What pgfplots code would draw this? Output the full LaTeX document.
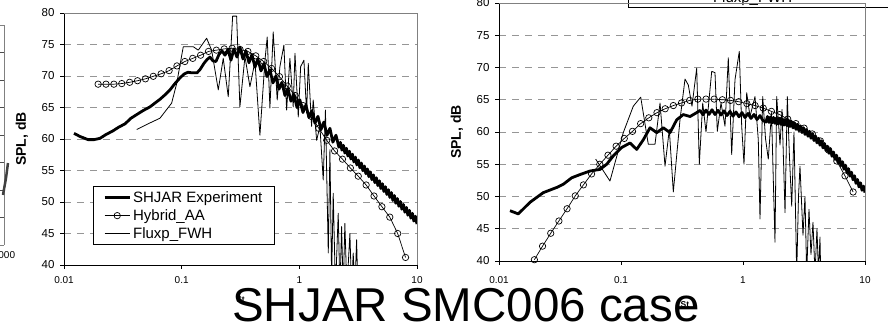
\documentclass[border=0pt]{standalone}
\usepackage{fontspec}
\setmainfont{Liberation Sans}
\usepackage{pgfplots}
\pgfplotsset{compat=1.18}
\definecolor{gridgray}{RGB}{150,150,150}
\definecolor{framegray}{RGB}{128,128,128}
\begin{document}
\begin{tikzpicture}

% partial panel at the far left
\begin{axis}[scale only axis, at={(4pt,81pt)}, anchor=south east, width=300pt, height=220pt,
  xmode=log, xmin=1, xmax=1000, ymin=40, ymax=80,
  axis x line*=bottom, axis y line*=right,
  axis line style={-, framegray, line width=0.8pt},
  xtick={1000}, xticklabels={1000}, xminorticks=false,
  ytick={40,45,...,80}, yticklabels={},
  tick align=inside, major tick length=4pt, tick style={black!70, line width=0.7pt},
  xticklabel style={font=\fontsize{10}{11}\selectfont, yshift=-3pt},
  clip=false]
\addplot[line width=2.5pt, black!75, no markers] coordinates {(977,49.1) (1048,52.2) (1096,54.9)};
\end{axis}
\draw[framegray, line width=0.8pt] (-296pt,301pt) -- (4pt,301pt);

% left panel
\begin{axis}[scale only axis, at={(64pt,61pt)}, anchor=south west, width=353pt, height=252pt,
  xmode=log, xmin=0.01, xmax=10, ymin=40, ymax=80,
  axis x line*=bottom, axis y line*=left,
  axis line style={-, black, line width=0.8pt},
  xtick={0.01,0.1,1,10}, xticklabels={0.01,0.1,1,10},
  ytick={40,45,...,80}, yticklabels={40,45,50,55,60,65,70,75,80},
  xminorticks=false, yminorticks=false,
  tick align=outside, major tick length=4pt,
  tick style={black, line width=0.7pt},
  xticklabel style={font=\fontsize{10}{11}\selectfont, yshift=-4pt},
  yticklabel style={font=\fontsize{11.5}{13}\selectfont, xshift=-2pt},
  ymajorgrids,
  grid style={gridgray, line width=0.8pt, dash pattern=on 7pt off 6pt},
  xlabel={St}, ylabel={SPL, dB},
  every axis y label/.style={at={(axis description cs:-0.119,0.5)}, rotate=90, anchor=center, font=\fontsize{14}{16}\selectfont\bfseries},
  every axis x label/.style={at={(axis description cs:0.5,-0.139)}, anchor=center, font=\fontsize{8.5}{10}\selectfont\bfseries},
  legend cell align=left,
  legend style={at={(axis description cs:0.082,0.079)}, anchor=south west, draw=black, line width=0.8pt,
    font=\fontsize{15}{17}\selectfont, inner xsep=10pt, inner ysep=3pt, row sep=1.5pt, nodes={inner sep=2pt}},
  legend image code/.code={\draw[mark repeat=2,mark phase=2,#1] plot coordinates {(0pt,0pt) (12.5pt,0pt) (25pt,0pt)};},
]
\addplot[black, line width=2.8pt, line join=round, no markers] coordinates {
(0.01216,60.9) (0.01368,60.4) (0.0160,59.9) (0.0180,59.9) (0.0202,60.1) (0.0227,60.7)
(0.0261,61.3) (0.0293,61.9) (0.0330,62.4) (0.0371,63.3) (0.0417,63.9) (0.0469,64.5)
(0.0538,65.1) (0.0593,65.7) (0.0654,66.3) (0.0721,67.0) (0.0796,67.8) (0.0877,68.8)
(0.0968,69.7) (0.1047,70.3) (0.1132,70.6) (0.1224,70.5) (0.1349,70.5) (0.1430,71.0)
(0.1546,72.0) (0.1641,72.6) (0.1740,73.0) (0.1845,72.4) (0.1955,72.3) (0.2074,73.4)
(0.2199,74.0) (0.2333,73.3) (0.2472,74.2) (0.2624,72.5) (0.2780,74.3) (0.2951,73.0)
(0.3126,74.6) (0.3319,72.7) (0.3516,74.0) (0.3733,72.1) (0.3954,73.4) (0.4198,71.4)
(0.4446,72.7) (0.4721,70.8) (0.5000,72.0) (0.5309,69.9) (0.5623,71.0) (0.5970,68.9)
(0.6324,70.0) (0.6714,67.9) (0.7112,69.0) (0.7551,66.9) (0.7998,68.0) (0.8492,66.0)
(0.8995,67.1) (0.9550,65.0) (1.0116,66.2) (1.074,64.2) (1.138,65.4) (1.208,63.4)
(1.279,64.5) (1.358,62.5) (1.439,63.6) (1.528,61.5) (1.618,62.7) (1.718,60.6)
(1.820,61.7) (1.928,59.5) (2.047,60.6)
(2.170,58.70) (2.234,59.47) (2.301,58.23) (2.369,59.00) (2.440,57.76) (2.513,58.53)
(2.587,57.29) (2.664,58.06) (2.744,56.82) (2.825,57.59) (2.909,56.35) (2.996,57.12)
(3.085,55.88) (3.177,56.65) (3.272,55.42) (3.369,56.18) (3.469,54.95) (3.573,55.71)
(3.679,54.48) (3.789,55.24) (3.901,54.01) (4.018,54.77) (4.137,53.54) (4.260,54.30)
(4.387,53.07) (4.518,53.84) (4.652,52.60) (4.791,53.37) (4.933,52.13) (5.080,52.90)
(5.232,51.66) (5.387,52.43) (5.548,51.19) (5.713,51.96) (5.883,50.72) (6.058,51.49)
(6.238,50.25) (6.424,51.02) (6.615,49.79) (6.812,50.55) (7.015,49.32) (7.224,50.08)
(7.439,48.85) (7.660,49.61) (7.888,48.38) (8.123,49.14) (8.365,47.91) (8.614,48.67)
(8.870,47.44) (9.134,48.20) (9.406,46.97) (9.686,47.74) (10.0,46.50)
};
\addplot[black, line width=0.7pt, mark=o, mark size=3.2pt, mark options={solid, line width=0.7pt}] coordinates {
(0.0195,68.7) (0.02275,68.7) (0.02655,68.7) (0.03097,68.8) (0.03614,69.0) (0.04217,69.25)
(0.0492,69.55) (0.0574,69.95) (0.0670,70.35) (0.0782,70.85) (0.0912,71.6) (0.1064,72.3)
(0.1242,72.8) (0.1449,73.3) (0.1690,73.9) (0.1972,74.1) (0.2301,74.3) (0.2685,74.4)
(0.3133,74.2) (0.3655,73.9) (0.4265,73.2) (0.4976,72.3) (0.5806,71.2) (0.6775,69.9)
(0.7904,68.4) (0.9223,66.9) (1.076,65.3) (1.2556,63.6) (1.465,61.7) (1.709,59.8)
(1.995,58.1) (2.327,56.8) (2.715,55.4) (3.168,54.1) (3.697,52.7) (4.313,50.95)
(5.033,49.25) (5.872,47.6) (6.851,45.0) (7.994,41.2)
};
\addplot[black, line width=0.8pt, no markers, line join=round] coordinates {
(0.0415,61.5) (0.0517,62.4) (0.0654,63.3) (0.0822,65.7) (0.0907,68.8) (0.1032,74.65)
(0.1255,74.65) (0.1384,74.1) (0.1630,76.0) (0.1798,74.1) (0.2047,67.8) (0.2256,72.8)
(0.2489,66.7) (0.2712,79.5) (0.2931,79.5) (0.3126,65.1) (0.3451,73.1) (0.3802,68.3)
(0.4198,72.3) (0.4624,60.6) (0.5105,72.5) (0.5335,76.2) (0.5623,64.9) (0.5998,77.0)
(0.6487,66.2) (0.6839,71.5) (0.7396,74.9) (0.7798,64.6) (0.8318,72.8) (0.8873,65.1)
(0.9183,73.6) (0.9795,63.5) (1.026,71.5) (1.094,72.5) (1.153,64.1) (1.191,72.0)
(1.271,62.0) (1.312,66.2) (1.403,59.8) (1.496,62.0) (1.596,53.5) (1.667,64.6)
(1.762,41.9) (1.820,58.3) (1.881,38.0) (1.941,51.4) (2.028,36) (2.140,48.2)
(2.213,36) (2.286,46.1) (2.360,36) (2.438,46.6) (2.536,36) (2.690,45.0)
(2.780,36) (2.870,41.9) (2.965,36) (3.067,44.0) (3.147,36)
};
\legend{SHJAR Experiment, Hybrid\_AA, Fluxp\_FWH}
\end{axis}
\draw[framegray, line width=0.8pt] (64pt,313pt) -- (417pt,313pt) -- (417pt,61pt);

% right panel
\begin{axis}[scale only axis, at={(499pt,65pt)}, anchor=south west, width=366pt, height=258pt,
  xmode=log, xmin=0.01, xmax=10, ymin=40, ymax=80,
  axis x line*=bottom, axis y line*=left,
  axis line style={-, black, line width=0.8pt},
  xtick={0.01,0.1,1,10}, xticklabels={0.01,0.1,1,10},
  ytick={40,45,...,80}, yticklabels={40,45,50,55,60,65,70,75,80},
  xminorticks=false, yminorticks=false,
  tick align=outside, major tick length=4pt,
  tick style={black, line width=0.7pt},
  xticklabel style={font=\fontsize{10}{11}\selectfont, yshift=-8pt},
  yticklabel style={font=\fontsize{11.5}{13}\selectfont, xshift=-2pt},
  ymajorgrids,
  grid style={gridgray, line width=0.8pt, dash pattern=on 7pt off 6pt},
  xlabel={St}, ylabel={SPL, dB},
  every axis y label/.style={at={(axis description cs:-0.115,0.5)}, rotate=90, anchor=center, font=\fontsize{14}{16}\selectfont\bfseries},
  every axis x label/.style={at={(axis description cs:0.508,-0.167)}, anchor=center, font=\fontsize{8.5}{10}\selectfont\bfseries},
  legend cell align=left,
  legend style={at={(axis description cs:0.352,0.983)}, anchor=south west, draw=black, line width=0.8pt,
    font=\fontsize{15}{17}\selectfont, inner xsep=10pt, inner ysep=1pt, row sep=1.5pt, nodes={inner sep=2pt}},
  legend image code/.code={\draw[mark repeat=2,mark phase=2,#1] plot coordinates {(0pt,0pt) (35pt,0pt) (70pt,0pt)};},
]
\addplot[black, line width=2.8pt, line join=round, no markers] coordinates {
(0.01231,47.8) (0.01439,47.3) (0.01795,49.1) (0.02307,50.6) (0.02971,51.4) (0.03366,51.9)
(0.03945,52.9) (0.04613,53.4) (0.05571,53.95) (0.06724,54.2) (0.07638,55.0) (0.0865,56.3)
(0.1014,57.6) (0.1186,58.3) (0.1345,57.3) (0.1524,58.8) (0.1729,60.65) (0.1963,59.9)
(0.2223,60.65) (0.2522,59.9) (0.2864,61.9) (0.3243,62.7) (0.3680,62.4) (0.4169,63.0)
(0.4441,63.35) (0.4700,62.67) (0.4974,63.4) (0.5264,62.72) (0.5571,63.45) (0.5896,62.71)
(0.6240,63.36) (0.6604,62.62) (0.6989,63.28) (0.7396,62.55) (0.7826,63.2) (0.8279,62.45)
(0.8762,63.11) (0.9273,62.36) (0.9813,63.01) (1.0385,62.24) (1.0990,62.87) (1.1631,62.1)
(1.2310,62.72) (1.3027,61.93) (1.3785,62.55) (1.4587,61.76)
(1.5437,61.55) (1.5880,62.41) (1.6336,61.48) (1.6805,62.34) (1.7288,61.40) (1.7784,62.26)
(1.8295,61.33) (1.8820,62.19) (1.9361,61.25) (1.9917,62.11) (2.0489,61.17) (2.1077,62.01)
(2.1682,61.06) (2.2305,61.91) (2.2946,60.96) (2.3605,61.80) (2.4283,60.85) (2.4980,61.64)
(2.5697,60.63) (2.6435,61.41) (2.7194,60.40) (2.7975,61.19) (2.8778,60.18) (2.9605,60.95)
(3.0455,59.91) (3.1330,60.66) (3.2230,59.62) (3.3155,60.38) (3.4107,59.34) (3.5087,60.10)
(3.6094,59.03) (3.7131,59.75) (3.8197,58.67) (3.9294,59.39) (4.0422,58.31) (4.1583,59.03)
(4.2777,57.95) (4.4006,58.64) (4.5270,57.53) (4.6570,58.22) (4.7907,57.11) (4.9283,57.80)
(5.0698,56.69) (5.2154,57.37) (5.3652,56.23) (5.5193,56.89) (5.6778,55.75) (5.8408,56.41)
(6.0085,55.27) (6.1811,55.93) (6.3586,54.77) (6.5412,55.40) (6.7290,54.23) (6.9223,54.86)
(7.1211,53.69) (7.3256,54.32) (7.5359,53.15) (7.7523,53.77) (7.9750,52.59) (8.2040,53.21)
(8.4396,52.03) (8.6819,52.64) (8.9312,51.48) (9.1877,52.12) (9.4516,50.96) (9.7230,51.61)
(10.0,50.60)
};
\addplot[black, line width=0.7pt, mark=o, mark size=3.2pt, mark options={solid, line width=0.7pt}] coordinates {
(0.0195,40.2) (0.02275,42.3) (0.02655,44.3) (0.03097,46.2) (0.03614,48.1) (0.04217,50.1)
(0.0492,51.8) (0.0574,53.5) (0.0670,55.0) (0.0782,56.4) (0.0912,57.8) (0.1064,59.0)
(0.1242,60.1) (0.1449,61.3) (0.1690,62.2) (0.1972,63.0) (0.2301,63.6) (0.2685,64.1)
(0.3133,64.5) (0.3655,64.9) (0.4265,65.1) (0.4976,65.1) (0.5806,65.1) (0.6775,65.0)
(0.7904,64.9) (0.9223,64.7) (1.076,64.4) (1.2556,64.1) (1.465,63.7) (1.709,63.2)
(1.995,62.7) (2.327,62.0) (2.715,61.3) (3.168,60.6) (3.697,59.7) (4.313,58.6)
(5.033,57.2) (5.872,55.5) (6.851,53.2) (7.994,50.7)
};
\addplot[black, line width=0.8pt, no markers, line join=round] coordinates {
(0.0620,55.8) (0.0812,52.4) (0.1044,59.9) (0.1261,64.0) (0.1451,65.4) (0.1674,58.1)
(0.1900,58.1) (0.2089,64.5) (0.2295,54.7) (0.2489,60.4) (0.2684,50.7) (0.3045,61.9)
(0.3347,68.2) (0.3561,67.3) (0.3819,64.0) (0.4174,69.9) (0.4385,55.0) (0.4675,64.5)
(0.4974,60.0) (0.5540,69.4) (0.5896,69.2) (0.6157,60.1) (0.6604,64.5) (0.7120,60.9)
(0.7578,71.5) (0.8079,56.5) (0.8597,68.1) (0.9326,72.5) (0.9757,60.9) (1.0190,55.0)
(1.0723,66.1) (1.1414,62.4) (1.2541,65.5) (1.3347,58.8) (1.3785,46.5) (1.4506,65.5)
(1.5293,59.0) (1.6119,55.8) (1.7126,63.0) (1.8293,42.9) (1.8889,65.5) (2.0111,58.0)
(2.0884,63.5) (2.2103,47.5) (2.3082,65.5) (2.4054,56.0) (2.5079,48.5) (2.6182,60.0)
(2.7555,38.0) (2.8503,50.0) (2.9322,54.7) (3.1024,44.0) (3.2219,50.0) (3.3268,38.0)
(3.4754,48.0) (3.6081,41.0) (3.7471,46.0) (3.8914,38.0) (4.0405,45.0) (4.1567,38.0)
(4.2758,43.7) (4.3351,38.0)
};
\legend{SHJAR Experiment, Hybrid\_AA, \makebox[200pt][l]{Fluxp\_FWH}}
\end{axis}
\draw[framegray, line width=0.8pt] (499pt,323pt) -- (865pt,323pt) -- (865pt,65pt);

\node[anchor=base, font=\fontsize{47.5}{50}\selectfont, inner sep=0pt] at (465.9pt,4.3pt) {SHJAR SMC006 case};

\pgfresetboundingbox
\path[use as bounding box] (0pt,0pt) rectangle (888pt,326pt);
\end{tikzpicture}
\end{document}
